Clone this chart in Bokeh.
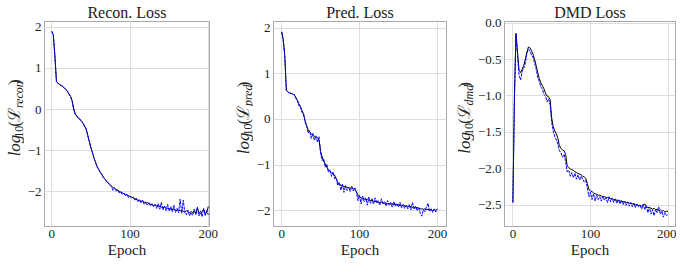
from math import pi
from bokeh.plotting import figure
from bokeh.layouts import row
from bokeh.models import Label, FixedTicker, Range1d
from bokeh.embed import file_html
from bokeh.resources import INLINE

epochs = list(range(0, 201, 2))

recon_train = [
    1.90, 1.82, 1.30, 0.68, 0.64, 0.61, 0.59, 0.56, 0.53, 0.49,
    0.44, 0.38, 0.32, 0.22, 0.02, -0.10, -0.16, -0.20, -0.24, -0.28,
    -0.33, -0.40, -0.48, -0.62, -0.78, -0.92, -1.05, -1.18, -1.29, -1.38,
    -1.46, -1.52, -1.58, -1.64, -1.69, -1.74, -1.78, -1.82, -1.86, -1.89,
    -1.91, -1.94, -1.96, -1.98, -2.00, -2.02, -2.04, -2.06, -2.07, -2.09,
    -2.11, -2.12, -2.15, -2.16, -2.18, -2.20, -2.21, -2.23, -2.22, -2.25,
    -2.27, -2.26, -2.29, -2.30, -2.31, -2.33, -2.32, -2.34, -2.36, -2.35,
    -2.37, -2.38, -2.37, -2.40, -2.41, -2.40, -2.42, -2.43, -2.42, -2.44,
    -2.45, -2.44, -2.46, -2.45, -2.47, -2.48, -2.46, -2.49, -2.50, -2.48,
    -2.50, -2.45, -2.52, -2.40, -2.50, -2.53, -2.48, -2.42, -2.52, -2.50,
    -2.35]
recon_val = [
    1.90, 1.80, 1.28, 0.67, 0.64, 0.60, 0.58, 0.57, 0.52, 0.48,
    0.45, 0.37, 0.31, 0.20, 0.00, -0.12, -0.15, -0.22, -0.23, -0.30,
    -0.33, -0.42, -0.47, -0.64, -0.77, -0.94, -1.04, -1.19, -1.28, -1.40,
    -1.45, -1.53, -1.57, -1.66, -1.68, -1.76, -1.77, -1.84, -1.86, -1.96,
    -1.90, -1.98, -1.95, -2.02, -2.00, -2.06, -2.03, -2.10, -2.05, -2.14,
    -2.10, -2.16, -2.12, -2.20, -2.15, -2.24, -2.18, -2.27, -2.20, -2.30,
    -2.24, -2.32, -2.26, -2.34, -2.28, -2.36, -2.30, -2.40, -2.28, -2.42,
    -2.25, -2.44, -2.34, -2.46, -2.30, -2.47, -2.36, -2.48, -2.32, -2.50,
    -2.40, -2.50, -2.18, -2.52, -2.20, -2.50, -2.56, -2.44, -2.58, -2.50,
    -2.57, -2.42, -2.56, -2.36, -2.58, -2.46, -2.60, -2.40, -2.58, -2.45,
    -2.56]

pred_train = [
    1.92, 1.75, 1.40, 0.64, 0.60, 0.58, 0.57, 0.56, 0.54, 0.49,
    0.42, 0.35, 0.28, 0.20, 0.12, -0.02, -0.15, -0.22, -0.28, -0.31,
    -0.35, -0.37, -0.39, -0.40, -0.45, -0.70, -0.82, -0.92, -0.98, -1.05,
    -1.10, -1.14, -1.17, -1.20, -1.22, -1.30, -1.38, -1.42, -1.44, -1.46,
    -1.47, -1.48, -1.49, -1.50, -1.51, -1.50, -1.52, -1.53, -1.58, -1.66,
    -1.70, -1.72, -1.73, -1.74, -1.76, -1.75, -1.77, -1.78, -1.77, -1.79,
    -1.80, -1.79, -1.81, -1.82, -1.81, -1.83, -1.84, -1.83, -1.85, -1.84,
    -1.86, -1.85, -1.87, -1.86, -1.88, -1.87, -1.89, -1.88, -1.90, -1.89,
    -1.91, -1.90, -1.92, -1.91, -1.93, -1.92, -1.94, -1.93, -1.95, -1.96,
    -1.96, -1.97, -1.96, -1.98, -1.97, -1.99, -1.97, -2.00, -1.98, -1.99,
    -1.96]
pred_val = [
    1.92, 1.74, 1.38, 0.63, 0.61, 0.57, 0.58, 0.54, 0.55, 0.46,
    0.43, 0.30, 0.29, 0.15, 0.13, -0.06, -0.12, -0.30, -0.25, -0.42,
    -0.30, -0.46, -0.36, -0.50, -0.38, -0.75, -0.90, -0.86, -1.05, -0.98,
    -1.16, -1.10, -1.25, -1.15, -1.30, -1.28, -1.45, -1.38, -1.55, -1.42,
    -1.60, -1.45, -1.56, -1.48, -1.58, -1.46, -1.57, -1.50, -1.60, -1.78,
    -1.66, -1.85, -1.68, -1.80, -1.72, -1.88, -1.70, -1.84, -1.74, -1.86,
    -1.72, -1.84, -1.78, -1.88, -1.74, -1.86, -1.80, -1.90, -1.78, -1.88,
    -1.82, -1.92, -1.80, -1.90, -1.84, -1.92, -1.82, -1.94, -1.86, -1.95,
    -1.88, -1.96, -1.86, -1.98, -1.82, -1.97, -1.90, -2.00, -1.92, -2.06,
    -2.12, -1.98, -2.02, -1.92, -1.84, -2.02, -1.96, -2.04, -1.96, -2.03,
    -1.98]

dmd_train = [
    -2.46, -1.00, -0.15, -0.40, -0.65, -0.68, -0.63, -0.58, -0.50, -0.40,
    -0.33, -0.34, -0.38, -0.43, -0.50, -0.58, -0.68, -0.76, -0.82, -0.86,
    -0.90, -0.96, -1.00, -1.01, -1.05, -1.30, -1.42, -1.48, -1.52, -1.58,
    -1.68, -1.72, -1.74, -1.75, -1.80, -1.96, -1.98, -2.00, -2.01, -2.02,
    -2.04, -2.05, -2.06, -2.07, -2.08, -2.10, -2.11, -2.13, -2.20, -2.28,
    -2.30, -2.31, -2.33, -2.34, -2.35, -2.36, -2.36, -2.37, -2.38, -2.38,
    -2.39, -2.39, -2.40, -2.41, -2.41, -2.42, -2.42, -2.43, -2.43, -2.44,
    -2.44, -2.45, -2.45, -2.46, -2.46, -2.47, -2.47, -2.48, -2.48, -2.49,
    -2.49, -2.50, -2.50, -2.51, -2.50, -2.48, -2.52, -2.53, -2.53, -2.54,
    -2.55, -2.54, -2.56, -2.55, -2.57, -2.56, -2.58, -2.57, -2.59, -2.58,
    -2.58]
dmd_val = [
    -2.46, -1.05, -0.14, -0.45, -0.72, -0.78, -0.66, -0.62, -0.55, -0.42,
    -0.36, -0.38, -0.44, -0.47, -0.55, -0.63, -0.74, -0.80, -0.88, -0.90,
    -0.98, -1.00, -1.08, -1.04, -1.12, -1.36, -1.48, -1.56, -1.60, -1.66,
    -1.75, -1.78, -1.84, -1.80, -1.90, -2.04, -2.02, -2.10, -2.05, -2.12,
    -2.06, -2.14, -2.08, -2.15, -2.10, -2.14, -2.18, -2.16, -2.26, -2.38,
    -2.32, -2.42, -2.34, -2.44, -2.36, -2.42, -2.38, -2.44, -2.37, -2.43,
    -2.40, -2.46, -2.38, -2.45, -2.40, -2.46, -2.41, -2.47, -2.42, -2.48,
    -2.43, -2.49, -2.44, -2.50, -2.45, -2.51, -2.46, -2.52, -2.47, -2.53,
    -2.48, -2.52, -2.50, -2.55, -2.48, -2.56, -2.50, -2.60, -2.52, -2.62,
    -2.56, -2.64, -2.55, -2.60, -2.52, -2.62, -2.58, -2.66, -2.60, -2.64,
    -2.62]

titles = ["Recon. Loss", "Pred. Loss", "DMD Loss"]
subscripts = ["recon", "pred", "dmd"]
x_ticks = [0, 100, 200]
x_tick_labels = ["0", "100", "200"]
int_y_ticks = [-2, -1, 0, 1, 2]
int_y_tick_labels = ["\u22122", "\u22121", "0", "1", "2"]
dmd_y_ticks = [-2.5, -2.0, -1.5, -1.0, -0.5, 0.0]
dmd_y_tick_labels = ["\u22122.5", "\u22122.0", "\u22121.5", "\u22121.0", "\u22120.5", "0.0"]

SERIF = "Liberation Serif"
TXT = "#222222"
H = 261
TOP = 21
BOTTOM = 35
FRAME_H = H - TOP - BOTTOM
LBL_W = 24

# approximate serif advance widths (em) used to chain the y-label pieces
EM = {"l": .28, "o": .5, "g": .5, "r": .39, "e": .44, "c": .44, "n": .5,
      "p": .5, "d": .5, "m": .72, "(": .33, ")": .33, "1": .5, "0": .5, "\u2112": .95}


def tw(s, size):
    return sum(EM.get(c, .5) for c in s) * size


def label_fig(sub):
    f = figure(width=LBL_W, height=H, x_range=Range1d(0, LBL_W), y_range=Range1d(0, H),
               output_backend="svg", toolbar_location=None, min_border=0,
               x_axis_location=None, y_axis_location=None, title=None)
    f.outline_line_color = None
    f.border_fill_color = None
    f.background_fill_color = None
    f.xgrid.visible = False
    f.ygrid.visible = False
    big, small = 17, 12
    # (text, size, style, shift below baseline, gap after)
    pieces = [("log", big, "italic", 0, 2), ("10", small, "normal", 4, 2),
              ("(", big, "normal", 0, 0.5), ("\u2112", big, "normal", 0, 1.5),
              (sub, small, "italic", 4, 2), (")", big, "normal", 0, 0)]
    total = sum(tw(s, sz) + g for s, sz, _, _, g in pieces)
    y = BOTTOM + FRAME_H / 2 - total / 2
    for s, sz, st, dx, g in pieces:
        f.add_layout(Label(x=14 + dx, y=y, text=s, angle=pi / 2, text_align="left",
                           text_baseline="alphabetic", text_font=SERIF,
                           text_font_size=f"{sz}px", text_font_style=st,
                           text_color=TXT))
        y += tw(s, sz) + g
    return f


def make_panel(title, ytr, yva, xr, yr, yticks, ylabels, width, bl, br):
    p = figure(width=width, height=H, x_range=Range1d(*xr), y_range=Range1d(*yr),
               output_backend="svg", toolbar_location=None,
               min_border_left=bl, min_border_right=br,
               min_border_top=TOP, min_border_bottom=BOTTOM)
    p.border_fill_color = None
    p.title.text = title
    p.title.align = "center"
    p.title.text_font = SERIF
    p.title.text_font_size = "16px"
    p.title.text_font_style = "normal"
    p.title.text_color = TXT
    p.title.standoff = 1
    p.outline_line_color = "#a8a8a8"
    p.outline_line_width = 1
    for ax in (p.xaxis[0], p.yaxis[0]):
        ax.axis_line_color = None
        ax.major_tick_line_color = None
        ax.minor_tick_line_color = None
        ax.major_tick_out = 0
        ax.major_tick_in = 0
        ax.minor_tick_out = 0
        ax.minor_tick_in = 0
        ax.major_label_text_font = SERIF
        ax.major_label_text_font_size = "13px"
        ax.major_label_text_color = TXT
        ax.major_label_standoff = 3
    p.xaxis.ticker = FixedTicker(ticks=x_ticks)
    p.xaxis.major_label_overrides = dict(zip(x_ticks, x_tick_labels))
    p.yaxis.ticker = FixedTicker(ticks=yticks)
    p.yaxis.major_label_overrides = dict(zip(yticks, ylabels))
    p.xaxis.axis_label = "Epoch"
    p.xaxis.axis_label_text_font = SERIF
    p.xaxis.axis_label_text_font_size = "15px"
    p.xaxis.axis_label_text_font_style = "normal"
    p.xaxis.axis_label_text_color = TXT
    p.xaxis.axis_label_standoff = 1
    p.grid.grid_line_color = "#dedede"
    p.grid.grid_line_width = 1
    p.line(epochs, ytr, line_color="black", line_width=1)
    p.line(epochs, yva, line_color="#0000ff", line_width=1, line_dash="3 1")
    return p


p1 = make_panel(titles[0], recon_train, recon_val, (-9.3, 201.5), (-2.84, 2.14),
                int_y_ticks, int_y_tick_labels, 205, 16, 20)
p2 = make_panel(titles[1], pred_train, pred_val, (-10.5, 211.7), (-2.347, 2.146),
                int_y_ticks, int_y_tick_labels, 197, 16, 4)
p3 = make_panel(titles[2], dmd_train, dmd_val, (-10.8, 209.6), (-2.789, 0.021),
                dmd_y_ticks, dmd_y_tick_labels, 202, 26, 1)

layout = row(label_fig(subscripts[0]), p1, label_fig(subscripts[1]), p2,
             label_fig(subscripts[2]), p3)

open("out.html", "w").write(file_html(layout, INLINE))
